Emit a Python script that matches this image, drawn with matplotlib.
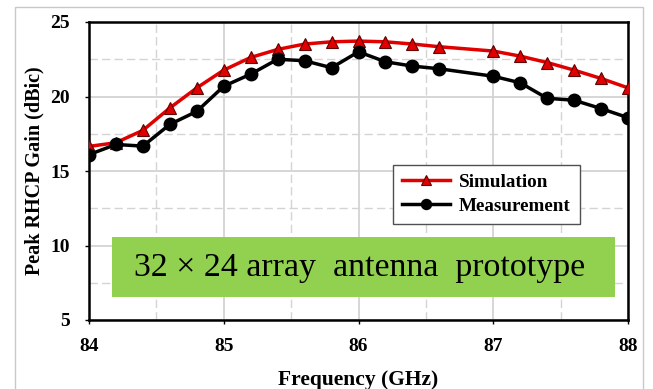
import matplotlib
matplotlib.use("Agg")
import matplotlib.pyplot as plt
from matplotlib.patches import Rectangle
from matplotlib.ticker import MultipleLocator

freq = [84.0, 84.2, 84.4, 84.6, 84.8, 85.0, 85.2, 85.4, 85.6, 85.8, 86.0,
        86.2, 86.4, 86.6, 87.0, 87.2, 87.4, 87.6, 87.8, 88.0]
simulation = [16.65, 16.9, 17.73, 19.23, 20.58, 21.77, 22.62, 23.16, 23.52, 23.67, 23.72,
              23.67, 23.52, 23.34, 23.05, 22.71, 22.28, 21.77, 21.21, 20.58]
measurement = [16.1, 16.78, 16.67, 18.13, 19.0, 20.69, 21.5, 22.5, 22.4, 21.93, 23.0,
               22.33, 22.04, 21.86, 21.36, 20.92, 19.88, 19.75, 19.19, 18.58]

W, H = 653, 389
fig = plt.figure(figsize=(W / 100, H / 100), dpi=100)
plt.rcParams['font.family'] = ['Liberation Serif', 'DejaVu Serif']

# outer frame
fig.patches.append(Rectangle((15 / W, -0.1), (643 - 15) / W, 1.1 - 7 / H,
                             transform=fig.transFigure, fill=False,
                             edgecolor='#c8c8c8', linewidth=1.0))

ax = fig.add_axes([89 / W, 1 - 320 / H, (628 - 89) / W, (320 - 22) / H])
ax.set_xlim(84, 88)
ax.set_ylim(5, 25)
ax.xaxis.set_major_locator(MultipleLocator(1))
ax.xaxis.set_minor_locator(MultipleLocator(0.5))
ax.yaxis.set_major_locator(MultipleLocator(5))
ax.yaxis.set_minor_locator(MultipleLocator(2.5))
ax.grid(which='major', color='#d0d0d0', linestyle='-', linewidth=1.2)
ax.grid(which='minor', color='#d4d4d4', linestyle=(0, (6, 3)), linewidth=1.0)
ax.set_axisbelow(True)
for s in ax.spines.values():
    s.set_linewidth(1.8)
ax.tick_params(which='major', direction='out', length=3, width=1, labelsize=14)
ax.tick_params(which='minor', length=0)
ax.tick_params(axis='y', pad=11)
ax.tick_params(axis='x', pad=10)
for lab in ax.get_xticklabels() + ax.get_yticklabels():
    lab.set_fontweight('bold')

ax.plot(freq, simulation, color='#e00000', linewidth=2.5, marker='^', markersize=9,
        markerfacecolor='#e00000', markeredgecolor='#600000', markeredgewidth=0.8,
        label='Simulation', zorder=3)
ax.plot(freq, measurement, color='black', linewidth=2.5, marker='o', markersize=9,
        markerfacecolor='black', markeredgecolor='black', label='Measurement', zorder=4)

ax.set_xlabel('Frequency (GHz)', fontsize=15.5, fontweight='bold', labelpad=11)
ax.set_ylabel('Peak RHCP Gain (dBic)', fontsize=14.5, fontweight='bold', labelpad=4)

leg = ax.legend(loc='upper left', bbox_to_anchor=((393 - 89) / (628 - 89), (320 - 165) / (320 - 22)),
                frameon=True, fancybox=False, edgecolor='#505050', framealpha=1,
                prop={'family': 'Liberation Serif', 'weight': 'bold', 'size': 13.8},
                handlelength=2.5, borderpad=0.45, labelspacing=0.35, handletextpad=0.5,
                borderaxespad=0, markerscale=0.8)
leg.get_frame().set_linewidth(1.0)

# green annotation box
ax.add_patch(Rectangle((112 / W, 1 - 297 / H), (615 - 112) / W, 60 / H,
                       transform=fig.transFigure, facecolor='#92d050',
                       edgecolor='none', zorder=5))
fig.text((112 + 615) / 2 / W - 4 / W, 1 - 268 / H, '32 × 24 array  antenna  prototype',
         ha='center', va='center', fontsize=24.4, family='Liberation Serif', zorder=6)

fig.savefig('out.png', dpi=100)
